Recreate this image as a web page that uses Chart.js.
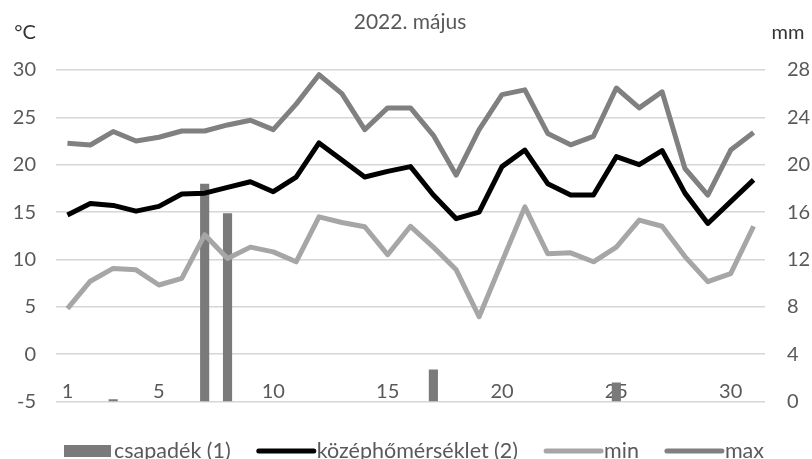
<!DOCTYPE html>
<html lang="hu">
<head>
<meta charset="utf-8">
<title>2022. május</title>
<script src="https://cdn.jsdelivr.net/npm/chart.js@4.4.1/dist/chart.umd.min.js"></script>
<style>
    html, body { margin: 0; padding: 0; background: #fff; overflow: hidden; }
</style>
</head>
<body>
<canvas id="weatherChart" width="812" height="459"></canvas>
<script>
// DAILY DATA, MAY 2022
const days = ["1", "2", "3", "4", "5", "6", "7", "8", "9", "10", "11", "12", "13", "14", "15", "16",
    "17", "18", "19", "20", "21", "22", "23", "24", "25", "26", "27", "28", "29", "30", "31"];

// precipitation, mm
const precip = [0, 0, 0.2, 0, 0, 0, 18.4, 15.9, 0, 0, 0, 0, 0, 0, 0, 0,
    2.7, 0, 0, 0, 0, 0, 0, 0, 1.6, 0, 0, 0, 0, 0, 0];

// daily mean temperature, °C
const tMean = [14.7, 15.9, 15.7, 15.1, 15.6, 16.9, 17.0, 17.6, 18.2, 17.15, 18.7, 22.3, 20.5, 18.7, 19.3, 19.8,
    16.8, 14.3, 15.0, 19.8, 21.55, 18.0, 16.8, 16.8, 20.85, 20.0, 21.5, 17.0, 13.8, 16.1, 18.4];

// daily minimum, °C
const tMin = [4.8, 7.7, 9.05, 8.9, 7.3, 8.0, 12.6, 10.1, 11.3, 10.8, 9.75, 14.5, 13.9, 13.45, 10.5, 13.5,
    11.3, 8.9, 3.95, 9.75, 15.55, 10.6, 10.7, 9.75, 11.3, 14.15, 13.5, 10.3, 7.65, 8.5, 13.5];

// daily maximum, °C
const tMax = [22.26, 22.08, 23.5, 22.5, 22.9, 23.56, 23.56, 24.2, 24.7, 23.7, 26.4, 29.5, 27.5, 23.7, 26.0, 26.0,
    23.1, 18.9, 23.7, 27.4, 27.9, 23.3, 22.1, 23.0, 28.1, 26.0, 27.7, 19.6, 16.8, 21.55, 23.4];

// day numbers that get a label on the x axis
const shownDays = ["1", "5", "10", "15", "20", "25", "30"];

const FONT = "Lato, 'Open Sans', sans-serif";
const TEXT_GRAY = "#595959";

// TITLE AND UNIT LABELS
const headerPlugin = {

    id: "headerPlugin",

    afterDraw(chart) {

        const ctx = chart.ctx;

        ctx.save();

        ctx.textBaseline = "middle";

        ctx.textAlign = "center";
        ctx.fillStyle = TEXT_GRAY;
        ctx.font = "21px " + FONT;
        ctx.fillText("2022. május", 410, 22);

        ctx.font = "20px " + FONT;
        ctx.fillStyle = "#333";
        ctx.fillText("°C", 25, 33);
        ctx.fillText("mm", 788, 33);

        ctx.restore();
    }
};

// LEGEND ROW UNDER THE PLOT
const bottomLegendPlugin = {

    id: "bottomLegendPlugin",

    afterDraw(chart) {

        const ctx = chart.ctx;

        const y = 451;

        ctx.save();

        ctx.font = "21.5px " + FONT;
        ctx.textBaseline = "middle";
        ctx.textAlign = "left";

        const items = chart.data.datasets.map((ds) => ({
            label: ds.label,
            isBar: (ds.type || chart.config.type) === "bar",
            color: ds.backgroundColor || ds.borderColor,
            width: ds.borderWidth
        }));

        const sampleW = (it) => (it.isBar ? 47 : 55);

        let total = 0;
        items.forEach((it, i) => {
            total += sampleW(it) + 3 + ctx.measureText(it.label).width;
            if (i < items.length - 1) total += 28;
        });

        let x = 414 - total / 2;

        items.forEach((it) => {

            const w = sampleW(it);

            if (it.isBar) {
                ctx.fillStyle = it.color;
                ctx.fillRect(x, y - 6, w, 12);
            } else {
                ctx.beginPath();
                ctx.moveTo(x, y);
                ctx.lineTo(x + w, y);
                ctx.lineWidth = it.width;
                ctx.lineCap = "round";
                ctx.strokeStyle = it.color;
                ctx.stroke();
            }

            x += w + 3;

            ctx.fillStyle = TEXT_GRAY;
            ctx.fillText(it.label, x, y);

            x += ctx.measureText(it.label).width + 28;
        });

        ctx.restore();
    }
};

const ctx = document.getElementById("weatherChart");

new Chart(ctx, {

    type: "bar",

    data: {
        labels: days,

        datasets: [
            {
                label: "csapadék (1)",
                data: precip,
                yAxisID: "y1",
                backgroundColor: "#7a7a7a",
                borderWidth: 0,
                categoryPercentage: 1,
                barPercentage: 0.4,
                order: 5
            },
            {
                type: "line",
                label: "középhőmérséklet (2)",
                data: tMean,
                yAxisID: "y",
                borderColor: "#000000",
                borderWidth: 5,
                pointRadius: 0,
                tension: 0,
                borderJoinStyle: "round",
                order: 1
            },
            {
                type: "line",
                label: "min",
                data: tMin,
                yAxisID: "y",
                borderColor: "#a6a6a6",
                borderWidth: 5,
                pointRadius: 0,
                tension: 0,
                borderJoinStyle: "round",
                order: 2
            },
            {
                type: "line",
                label: "max",
                data: tMax,
                yAxisID: "y",
                borderColor: "#808080",
                borderWidth: 5,
                pointRadius: 0,
                tension: 0,
                borderJoinStyle: "round",
                order: 3
            }
        ]
    },

    options: {

        responsive: false,

        animation: false,

        layout: {
            padding: { left: 0, right: 0, top: 70, bottom: 57.5 }
        },

        plugins: {
            legend: { display: false },
            title: { display: false },
            tooltip: { enabled: false }
        },

        scales: {

            x: {
                type: "category",
                position: { y: 0 },
                offset: true,
                grid: { display: false },
                border: { display: false },
                ticks: {
                    autoSkip: false,
                    maxRotation: 0,
                    padding: 17,
                    color: TEXT_GRAY,
                    font: { family: FONT, size: 20 },
                    callback: function (value) {
                        const label = this.getLabelForValue(value);
                        return shownDays.includes(label) ? label : "";
                    }
                }
            },

            y: {
                position: "left",
                min: -5,
                max: 30,
                ticks: {
                    stepSize: 5,
                    padding: 20,
                    color: TEXT_GRAY,
                    font: { family: FONT, size: 20 }
                },
                grid: {
                    color: "#d6d6d6",
                    lineWidth: 1.5,
                    drawTicks: false
                },
                border: { display: false },
                afterFit: (scale) => { scale.width = 56; }
            },

            y1: {
                position: "right",
                min: 0,
                max: 28,
                ticks: {
                    stepSize: 4,
                    padding: 22,
                    color: TEXT_GRAY,
                    font: { family: FONT, size: 20 }
                },
                grid: { display: false, drawTicks: false },
                border: { display: false },
                afterFit: (scale) => { scale.width = 47; }
            }
        }
    },

    plugins: [headerPlugin, bottomLegendPlugin]
});
</script>
</body>
</html>
